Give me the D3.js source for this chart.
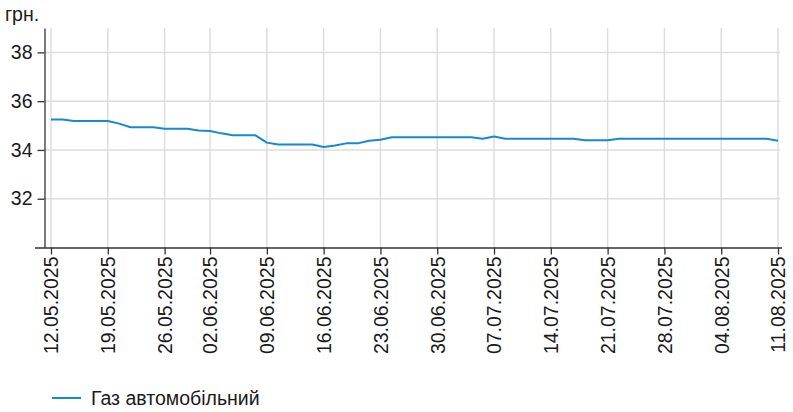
<!DOCTYPE html>
<html><head><meta charset="utf-8">
<script src="https://cdn.jsdelivr.net/npm/d3@7"></script>
<style>
html,body{margin:0;padding:0;background:#fff;}
text{font-family:"Liberation Sans",Arial,sans-serif;fill:#1a1a1a;}
</style></head>
<body><svg id="c" width="793" height="412"></svg>
<script>
const dates = [
"12.05.2025","13.05.2025","14.05.2025","15.05.2025","16.05.2025",
"19.05.2025","20.05.2025","21.05.2025","22.05.2025","23.05.2025",
"26.05.2025","27.05.2025","28.05.2025","30.05.2025",
"02.06.2025","03.06.2025","04.06.2025","05.06.2025","06.06.2025",
"09.06.2025","10.06.2025","11.06.2025","12.06.2025","13.06.2025",
"16.06.2025","17.06.2025","18.06.2025","19.06.2025","20.06.2025",
"23.06.2025","24.06.2025","25.06.2025","26.06.2025","27.06.2025",
"30.06.2025","01.07.2025","02.07.2025","03.07.2025","04.07.2025",
"07.07.2025","08.07.2025","09.07.2025","10.07.2025","11.07.2025",
"14.07.2025","15.07.2025","16.07.2025","17.07.2025","18.07.2025",
"21.07.2025","22.07.2025","23.07.2025","24.07.2025","25.07.2025",
"28.07.2025","29.07.2025","30.07.2025","31.07.2025","01.08.2025",
"04.08.2025","05.08.2025","06.08.2025","07.08.2025","08.08.2025",
"11.08.2025"];
const gasPrices = [
35.25,35.25,35.19,35.19,35.19,
35.19,35.08,34.93,34.93,34.93,
34.87,34.87,34.87,34.80,
34.78,34.68,34.60,34.60,34.60,
34.30,34.22,34.22,34.22,34.22,
34.12,34.18,34.27,34.27,34.38,
34.42,34.52,34.52,34.52,34.52,
34.52,34.52,34.52,34.52,34.46,
34.55,34.46,34.46,34.46,34.46,
34.46,34.46,34.46,34.40,34.40,
34.40,34.46,34.46,34.46,34.46,
34.46,34.46,34.46,34.46,34.46,
34.46,34.46,34.46,34.46,34.46,
34.38];
const xTickLabels = ["12.05.2025","19.05.2025","26.05.2025","02.06.2025","09.06.2025","16.06.2025","23.06.2025","30.06.2025","07.07.2025","14.07.2025","21.07.2025","28.07.2025","04.08.2025","11.08.2025"];
const yTicks = [32,34,36,38];
const seriesName = "Газ автомобільний";
const unitLabel = "грн.";

const svg = d3.select("#c");
const x = d3.scalePoint().domain(dates).range([51, 778]);
const y = d3.scaleLinear().domain([30, 39]).range([247.5, 28]);
const axisX0 = 44.5;
const fs = "19.5px";

// grid
const grid = svg.append("g");
grid.selectAll("line.h").data(yTicks).join("line")
  .attr("x1", axisX0).attr("x2", 780)
  .attr("y1", d => y(d)).attr("y2", d => y(d))
  .attr("stroke", "#dddddd").attr("stroke-width", 1.5);
grid.selectAll("line.v").data(xTickLabels).join("line")
  .attr("x1", d => x(d)).attr("x2", d => x(d))
  .attr("y1", y(39)).attr("y2", y(30))
  .attr("stroke", "#dddddd").attr("stroke-width", 1.5);

// line
const line = d3.line().x((d, i) => x(dates[i])).y(d => y(d));
svg.append("path").datum(gasPrices)
  .attr("fill", "none").attr("stroke", "#1589d1").attr("stroke-width", 2)
  .attr("stroke-linejoin", "round").attr("d", line);

// y axis
const yAxis = svg.append("g").attr("transform", `translate(${axisX0},0)`)
  .call(d3.axisLeft(y).tickValues(yTicks).tickSize(7).tickSizeOuter(0).tickPadding(5));
yAxis.select(".domain").attr("stroke", "#333").attr("stroke-width", 1.3);
yAxis.selectAll(".tick line").attr("stroke", "#333").attr("stroke-width", 1.3);
yAxis.selectAll(".tick text").style("font-size", fs).attr("fill", "#1a1a1a");

// x axis
const xAxis = svg.append("g").attr("transform", `translate(0,${y(30)})`)
  .call(d3.axisBottom(x).tickValues(xTickLabels).tickSize(7).tickSizeOuter(0));
xAxis.select(".domain").attr("d", `M35,0.5H782`).attr("stroke", "#333").attr("stroke-width", 1.3);
xAxis.selectAll(".tick line").attr("stroke", "#333").attr("stroke-width", 1.3);
xAxis.selectAll(".tick text")
  .style("font-size", fs).attr("fill", "#1a1a1a")
  .attr("transform", "rotate(-90)")
  .attr("text-anchor", "end")
  .attr("x", -9).attr("y", 0).attr("dy", "0.35em");

// unit label
svg.append("text").attr("x", 5).attr("y", 21).style("font-size", fs).text(unitLabel);

// legend
svg.append("line").attr("x1", 52).attr("x2", 81).attr("y1", 398).attr("y2", 398)
  .attr("stroke", "#1589d1").attr("stroke-width", 2);
svg.append("text").attr("x", 91).attr("y", 405).style("font-size", fs).text(seriesName);
</script></body></html>
